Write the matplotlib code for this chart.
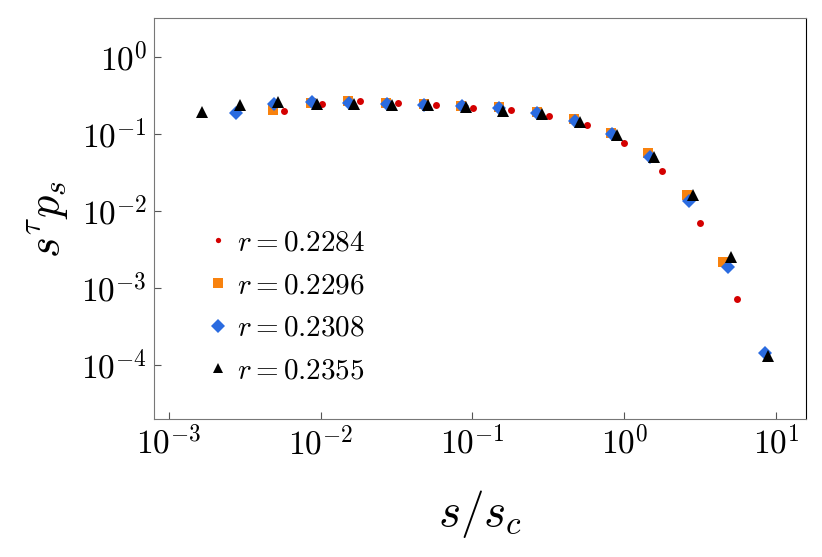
import matplotlib
matplotlib.use("Agg")
import matplotlib.pyplot as plt
from matplotlib.lines import Line2D

plt.rcParams['mathtext.fontset'] = 'cm'
plt.rcParams['font.family'] = 'DejaVu Serif'

# r = 0.2284 (red dots)
x_2284 = [5.76e-3, 1.02e-2, 1.82e-2, 3.21e-2, 5.71e-2, 0.101, 0.179, 0.318,
          0.564, 0.997, 1.77, 3.13, 5.53]
y_2284 = [0.199, 0.245, 0.269, 0.252, 0.239, 0.218, 0.2035, 0.172,
          0.130, 0.0766, 0.0332, 6.9e-3, 7.2e-4]

# r = 0.2296 (orange squares)
x_2296 = [4.88e-3, 8.63e-3, 1.52e-2, 2.70e-2, 4.76e-2, 8.43e-2, 0.149, 0.264,
          0.466, 0.815, 1.44, 2.57, 4.49]
y_2296 = [0.202, 0.249, 0.269, 0.252, 0.246, 0.233, 0.221, 0.1935,
          0.1555, 0.1033, 0.0558, 0.0163, 2.17e-3]

# r = 0.2308 (blue diamonds)
x_2308 = [2.77e-3, 4.95e-3, 8.73e-3, 1.54e-2, 2.73e-2, 4.82e-2, 8.51e-2, 0.149,
          0.264, 0.472, 0.828, 1.47, 2.66, 4.78, 8.41]
y_2308 = [0.189, 0.243, 0.258, 0.249, 0.241, 0.236, 0.227, 0.214,
          0.188, 0.147, 0.0994, 0.0505, 0.01355, 1.89e-3, 1.44e-4]

# r = 0.2355 (black triangles)
x_2355 = [1.66e-3, 2.94e-3, 5.26e-3, 9.42e-3, 1.66e-2, 2.93e-2, 5.11e-2, 9.02e-2,
          0.159, 0.285, 0.509, 0.889, 1.57, 2.84, 5.00, 8.85]
y_2355 = [0.192, 0.238, 0.258, 0.246, 0.243, 0.238, 0.236, 0.225,
          0.199, 0.181, 0.141, 0.0964, 0.0505, 0.0161, 2.49e-3, 1.31e-4]

labels = ['$r = 0.2284$', '$r = 0.2296$', '$r = 0.2308$', '$r = 0.2355$']
x_ticks = [1e-3, 1e-2, 1e-1, 1e0, 1e1]
y_ticks = [1e0, 1e-1, 1e-2, 1e-3, 1e-4]

c_red = '#d40000'
c_orange = '#f8820e'
c_blue = '#2a6be0'
c_black = '#000000'

fig = plt.figure(figsize=(8.22, 5.57), dpi=100)
ax = fig.add_axes([0.1873, 0.2472, 0.7932, 0.7199])

ax.plot(x_2284, y_2284, 'o', color=c_red, ms=5, mew=0)
ax.plot(x_2296, y_2296, 's', color=c_orange, ms=6.8, mew=0)
ax.plot(x_2308, y_2308, 'D', color=c_blue, ms=6.8, mew=0)
ax.plot(x_2355, y_2355, '^', color=c_black, ms=9.2, mew=0)

ax.set_xscale('log')
ax.set_yscale('log')
ax.set_xlim(7.99e-4, 15.7)
ax.set_ylim(1.98e-5, 3.15)

ax.set_xticks(x_ticks)
ax.set_xticklabels(['$10^{%d}$' % e for e in [-3, -2, -1, 0, 1]])
ax.set_yticks(y_ticks)
ax.set_yticklabels(['$10^{%d}$' % e for e in [0, -1, -2, -3, -4]])
ax.minorticks_off()
ax.tick_params(direction='in', length=5, width=0.8, color='#555555',
               labelsize=24, pad=5)

for side in ['left', 'top', 'bottom']:
    ax.spines[side].set_color('#777777')
ax.spines['right'].set_color('black')

ax.set_xlabel('$s/s_c$', fontsize=34, labelpad=19)
ax.set_ylabel(r'$s^{\tau}p_s$', fontsize=32, labelpad=7)

handles = [
    Line2D([], [], ls='', marker='o', color=c_red, ms=3.8, mew=0),
    Line2D([], [], ls='', marker='s', color=c_orange, ms=7, mew=0),
    Line2D([], [], ls='', marker='D', color=c_blue, ms=7.5, mew=0),
    Line2D([], [], ls='', marker='^', color=c_black, ms=7, mew=0),
]
ax.legend(handles, labels, loc='upper left', bbox_to_anchor=(0.062, 0.512),
          frameon=False, fontsize=21, handlelength=0.6, handletextpad=0.35,
          labelspacing=0.5, borderpad=0)

fig.savefig('out.png', dpi=100)
